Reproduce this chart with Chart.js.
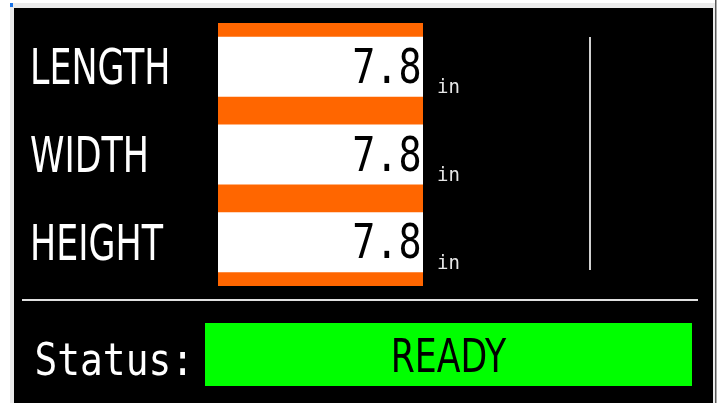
<!DOCTYPE html>
<html><head><meta charset="utf-8">
<script src="https://cdn.jsdelivr.net/npm/chart.js@4/dist/chart.umd.min.js"></script>
<style>html,body{margin:0;padding:0;background:#fff;overflow:hidden}canvas{display:block}</style>
</head><body>
<canvas id="c" width="720" height="403"></canvas>
<script>
const categories = ['LENGTH', 'WIDTH', 'HEIGHT'];
const values = [7.8, 7.8, 7.8];
const units = ['in', 'in', 'in'];
const statusLabel = 'Status:';
const statusValue = 'READY';

const SANS = '"Liberation Sans Narrow","DejaVu Sans Condensed","Liberation Sans",sans-serif';
const MONO = '"DejaVu Sans Mono","Liberation Mono",monospace';

function drawScaled(ctx, text, x, y, font, color, sx, align) {
  ctx.save();
  ctx.font = font;
  ctx.fillStyle = color;
  ctx.textBaseline = 'alphabetic';
  ctx.textAlign = 'left';
  const w = ctx.measureText(text).width * sx;
  let x0 = x;
  if (align === 'right') x0 = x - w;
  else if (align === 'center') x0 = x - w / 2;
  ctx.translate(x0, y);
  ctx.scale(sx, 1);
  ctx.fillText(text, 0, 0);
  ctx.restore();
}

const panelPlugin = {
  id: 'panel',
  beforeDraw(chart) {
    const ctx = chart.ctx;
    ctx.save();
    ctx.fillStyle = '#ffffff';
    ctx.fillRect(0, 0, 720, 403);
    ctx.fillStyle = '#ebebeb';
    ctx.fillRect(10, 3, 706, 400);
    ctx.fillStyle = '#000000';
    ctx.fillRect(14, 8, 699, 395);
    ctx.fillStyle = '#5a5a5a';
    ctx.fillRect(715, 0, 1.5, 403);
    ctx.fillStyle = '#1a73e8';
    ctx.fillRect(10, 3, 3, 4);
    ctx.restore();
  },
  beforeDatasetsDraw(chart) {
    const a = chart.chartArea;
    const ctx = chart.ctx;
    ctx.save();
    ctx.fillStyle = '#ff6600';
    ctx.fillRect(a.left, a.top, a.right - a.left, a.bottom - a.top);
    ctx.restore();
  },
  afterDraw(chart) {
    const ctx = chart.ctx;
    const y = chart.scales.y;
    const a = chart.chartArea;
    chart.data.labels.forEach((lab, i) => {
      const cy = y.getPixelForValue(i);
      drawScaled(ctx, lab, 30, cy + 17.5, '49px ' + SANS, '#ffffff', 0.79, 'left');
      drawScaled(ctx, values[i].toFixed(1), a.right - 1.5, cy + 16, '48px ' + MONO, '#000000', 0.80, 'right');
      drawScaled(ctx, units[i], 437, cy + 26.5, '19px ' + MONO, '#e6e6e6', 1, 'left');
    });
    ctx.save();
    ctx.fillStyle = '#d0d0d0';
    ctx.fillRect(589, 37, 2, 233);
    ctx.fillStyle = '#e0e0e0';
    ctx.fillRect(22, 299, 676, 2);
    ctx.fillStyle = '#00ff00';
    ctx.fillRect(205, 323, 487, 63);
    ctx.restore();
    drawScaled(ctx, statusLabel, 34.5, 375, '44px ' + MONO, '#ffffff', 0.86, 'left');
    drawScaled(ctx, statusValue, 448.5, 372, '47px ' + SANS, '#000000', 0.82, 'center');
  }
};

new Chart(document.getElementById('c'), {
  type: 'bar',
  data: {
    labels: categories,
    datasets: [{
      data: values,
      backgroundColor: '#ffffff',
      borderWidth: 0,
      barPercentage: 0.684,
      categoryPercentage: 1
    }]
  },
  options: {
    indexAxis: 'y',
    responsive: false,
    animation: false,
    devicePixelRatio: 1,
    layout: { padding: { left: 218, top: 23, right: 297, bottom: 117 } },
    plugins: { legend: { display: false }, tooltip: { enabled: false } },
    scales: {
      x: { display: false, min: 0, max: Math.max(...values) },
      y: { display: false }
    }
  },
  plugins: [panelPlugin]
});
</script>
</body></html>
